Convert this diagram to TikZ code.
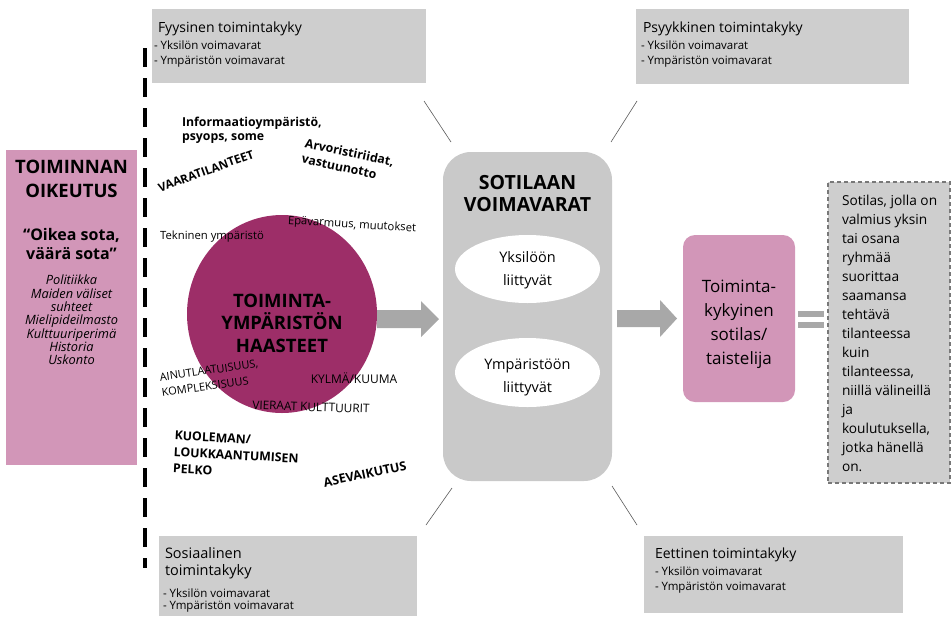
\documentclass[tikz,border=0pt]{standalone}
\usepackage{fontspec}
\setmainfont{Open Sans}
\usetikzlibrary{shapes.geometric}
\definecolor{pinkbox}{RGB}{210,150,184}
\definecolor{circ}{RGB}{157,46,104}
\definecolor{boxgrey}{RGB}{206,206,206}
\definecolor{midgrey}{RGB}{201,201,201}
\definecolor{arrowgrey}{RGB}{168,168,168}
\definecolor{linegrey}{RGB}{90,90,90}
\definecolor{dashgrey}{RGB}{120,120,120}
\newcommand{\myfs}[2]{\fontsize{#1}{#2}\selectfont}
\begin{document}
\begin{tikzpicture}[x=1pt,y=-1pt,
  every node/.style={inner sep=0pt, outer sep=0pt},
  greyrect/.style={fill=boxgrey, draw=none},
  titletxt/.style={anchor=base west, font=\myfs{14}{17}},
  bullettxt/.style={anchor=base west, font=\myfs{11.5}{14}},
  thinline/.style={draw=linegrey, line width=0.6pt},
  blockarrow/.style={fill=arrowgrey, draw=none},
  smalltxt/.style={font=\myfs{11.3}{15}, align=left},
  boldtxt/.style={font=\bfseries\myfs{12.3}{15}, align=left}
]
\useasboundingbox (0,0) rectangle (952,619);

% ---------- grey corner boxes ----------
\node[greyrect, minimum width=274pt, minimum height=74pt] (phys) at (289,46) {};
\node[greyrect, minimum width=273pt, minimum height=75pt] (psy) at (772.5,46.5) {};
\node[greyrect, minimum width=258pt, minimum height=80pt] (soc) at (288,576) {};
\node[greyrect, minimum width=259pt, minimum height=77pt] (eth) at (773.5,574.5) {};

\node[titletxt] (phys1) at (158,32) {Fyysinen toimintakyky};
\node[bullettxt] (phys2) at (154,49) {- Yksilön voimavarat};
\node[bullettxt] (phys3) at (154,64) {- Ympäristön voimavarat};

\node[titletxt] (psy1) at (643,32) {Psyykkinen toimintakyky};
\node[bullettxt] (psy2) at (641,49) {- Yksilön voimavarat};
\node[bullettxt] (psy3) at (641,64) {- Ympäristön voimavarat};

\node[titletxt, font=\myfs{14.5}{17}] (soc1) at (165,558) {Sosiaalinen};
\node[titletxt, font=\myfs{14.5}{17}] (soc2) at (165,575) {toimintakyky};
\node[bullettxt] (soc3) at (163,597) {- Yksilön voimavarat};
\node[bullettxt] (soc4) at (163,609) {- Ympäristön voimavarat};

\node[titletxt] (eth1) at (655,558) {Eettinen toimintakyky};
\node[bullettxt] (eth2) at (655,575) {- Yksilön voimavarat};
\node[bullettxt] (eth3) at (655,590) {- Ympäristön voimavarat};

% ---------- left box ----------
\node[fill=pinkbox, minimum width=131pt, minimum height=315pt] (just) at (71.5,307.5) {};
\node[font=\bfseries\myfs{18.5}{24}, align=center] (just1) at (71.5,179) {TOIMINNAN\\OIKEUTUS};
\node[font=\bfseries\myfs{16}{19}, align=center] (just2) at (71.5,244) {“Oikea sota,\\väärä sota”};
\node[font=\itshape\myfs{12.8}{13.3}, align=center] (just3) at (71.5,320) {Politiikka\\Maiden väliset\\suhteet\\Mielipideilmasto\\Kulttuuriperimä\\Historia\\Uskonto};

% dashed separator
\coordinate (sepTop) at (145,48);
\coordinate (sepBot) at (145,568);
\draw[line width=4.5pt, dash pattern=on 19pt off 11pt] (sepTop) -- (sepBot);

% ---------- circle ----------
\node[ellipse, fill=circ, minimum width=190pt, minimum height=198pt] (chal) at (282,314) {};
\node[font=\bfseries\myfs{18.5}{22.5}, align=center] (chal1) at (282,323) {TOIMINTA-\\YMPÄRISTÖN\\HAASTEET};

\node[boldtxt, font=\bfseries\myfs{12.3}{14}, anchor=north west] (info) at (182,117) {Informaatioympäristö,\\psyops, some};
\node[boldtxt, font=\bfseries\myfs{11.8}{14}, rotate=20] (vaara) at (206,171) {VAARATILANTEET};
\node[boldtxt, font=\bfseries\myfs{12.3}{16}, rotate=-12] (arvo) at (348,160) {Arvoristiriidat,\\vastuunotto};
\node[smalltxt, rotate=-3.5] (epa) at (352,225) {Epävarmuus, muutokset};
\node[smalltxt] (tekn) at (212,237) {Tekninen ympäristö};
\node[smalltxt, font=\myfs{11}{15.5}, rotate=8] (ainu) at (210,378) {AINUTLAATUISUUS,\\KOMPLEKSISUUS};
\node[smalltxt, font=\myfs{12}{15}] (kylma) at (354,378) {KYLMÄ/KUUMA};
\node[smalltxt, font=\myfs{11.8}{15}, rotate=-2] (vier) at (311,407) {VIERAAT KULTTUURIT};
\node[boldtxt, font=\bfseries\myfs{12.3}{16.5}, rotate=-3, anchor=north west] (kuol) at (175,431) {KUOLEMAN/\\LOUKKAANTUMISEN\\PELKO};
\node[boldtxt, font=\bfseries\myfs{12.5}{15}, rotate=12] (ase) at (365,474) {ASEVAIKUTUS};

% ---------- central box ----------
\node[fill=midgrey, rounded corners=28pt, minimum width=169pt, minimum height=329pt] (res) at (527.5,316.5) {};
\node[font=\bfseries\myfs{19.5}{22}, align=center] (res1) at (527.5,194) {SOTILAAN\\VOIMAVARAT};
\node[ellipse, fill=white, minimum width=145pt, minimum height=68pt] (ind) at (527.5,269) {};
\node[font=\myfs{14.5}{23}, align=center] (ind1) at (527.5,270) {Yksilöön\\liittyvät};
\node[ellipse, fill=white, minimum width=145pt, minimum height=69pt] (env) at (527.5,372.5) {};
\node[font=\myfs{14.5}{23}, align=center] (env1) at (527.5,377) {Ympäristöön\\liittyvät};

% ---------- thin connectors ----------
\coordinate (l1a) at (424,101); \coordinate (l1b) at (451,142);
\coordinate (l2a) at (637,101); \coordinate (l2b) at (611,142);
\coordinate (l3a) at (452,488); \coordinate (l3b) at (426,525);
\coordinate (l4a) at (612,486); \coordinate (l4b) at (637,525);
\draw[thinline] (l1a) -- (l1b);
\draw[thinline] (l2a) -- (l2b);
\draw[thinline] (l3a) -- (l3b);
\draw[thinline] (l4a) -- (l4b);

% ---------- block arrows ----------
\coordinate (a1t) at (377,319);
\fill[blockarrow] (a1t) ++(0,-9) -- ++(44,0) -- ++(0,-9) -- ++(18,18) -- ++(-18,18) -- ++(0,-9) -- ++(-44,0) -- cycle;
\coordinate (a2t) at (617,318.5);
\fill[blockarrow] (a2t) ++(0,-8.5) -- ++(43,0) -- ++(0,-10) -- ++(17,18.5) -- ++(-17,18.5) -- ++(0,-10) -- ++(-43,0) -- cycle;

% ---------- soldier box ----------
\node[fill=pinkbox, rounded corners=12pt, minimum width=112pt, minimum height=167pt] (sold) at (739,318.5) {};
\node[font=\myfs{17}{24}, align=center] (sold1) at (739,324.5) {Toiminta-\\kykyinen\\sotilas/\\taistelija};

% equals sign
\node[fill=arrowgrey, minimum width=26pt, minimum height=6pt] (eq1) at (810.5,313.5) {};
\node[fill=arrowgrey, minimum width=26pt, minimum height=6pt] (eq2) at (810.5,324.5) {};

% ---------- definition box ----------
\node[fill=boxgrey, draw=dashgrey, line width=1.1pt, dash pattern=on 4pt off 3pt, minimum width=122pt, minimum height=301pt] (def) at (889,332.5) {};
\node[anchor=north west, font=\myfs{13.7}{19}, align=left] (def1) at (842,195.5) {Sotilas, jolla on\\valmius yksin\\tai osana\\ryhmää\\suorittaa\\saamansa\\tehtävä\\tilanteessa\\kuin\\tilanteessa,\\niillä välineillä\\ja\\koulutuksella,\\jotka hänellä\\on.};
\end{tikzpicture}
\end{document}
